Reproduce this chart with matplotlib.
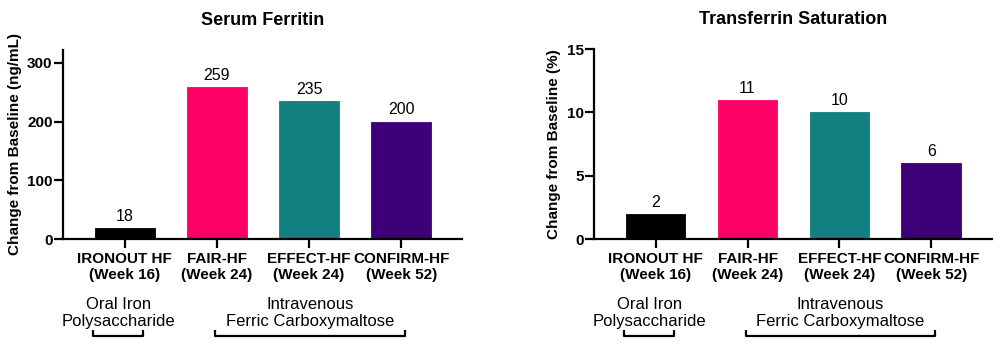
"""Iron repletion trials: change from baseline in ferritin and TSAT."""
import matplotlib.pyplot as plt
import matplotlib.transforms as mtransforms

plt.rcParams["font.family"] = ["Liberation Sans", "DejaVu Sans"]

trials = ["IRONOUT HF\n(Week 16)", "FAIR-HF\n(Week 24)",
          "EFFECT-HF\n(Week 24)", "CONFIRM-HF\n(Week 52)"]
ferritin_change = [18, 259, 235, 200]
tsat_change = [2, 11, 10, 6]
bar_colors = ["#000000", "#FF0066", "#128080", "#3D0078"]

groups = ["Oral Iron\nPolysaccharide", "Intravenous\nFerric Carboxymaltose"]
group_spans = [(-0.34, 0.20), (0.98, 3.04)]
group_centers = [-0.07, 2.01]


def draw_panel(ax, values, title, ylabel, ylim, yticks):
    x = range(len(values))
    bars = ax.bar(x, values, width=0.65, color=bar_colors,
                  edgecolor=bar_colors, linewidth=0.6)
    ax.bar_label(bars, labels=[str(v) for v in values], padding=3,
                 fontsize=11.5)
    ax.set_xlim(-0.67, 3.66)
    ax.set_ylim(*ylim)
    ax.set_yticks(yticks)
    ax.set_xticks(list(x))
    ax.set_xticklabels(trials, fontsize=11, fontweight="bold", linespacing=1.2)
    for lbl in ax.get_yticklabels():
        lbl.set_fontweight("bold")
        lbl.set_fontsize(11)
    ax.tick_params(axis="both", width=1.6, length=6.5, color="black")
    ax.tick_params(axis="y", pad=1)
    ax.tick_params(axis="x", pad=3)
    for side in ("top", "right"):
        ax.spines[side].set_visible(False)
    for side in ("left", "bottom"):
        ax.spines[side].set_linewidth(1.6)
    ax.set_title(title, fontsize=13, fontweight="bold", pad=18)
    ax.set_ylabel(ylabel, fontsize=11, fontweight="bold", labelpad=4)

    # treatment group captions and brackets below the trial names
    trans = mtransforms.blended_transform_factory(ax.transData, ax.transAxes)
    for name, (x0, x1), xc in zip(groups, group_spans, group_centers):
        ax.text(xc, -0.305, name, transform=trans, ha="center", va="top",
                fontsize=12, linespacing=1.15, clip_on=False)
        ax.plot([x0, x0, x1, x1], [-0.48, -0.513, -0.513, -0.48],
                transform=trans, color="black", linewidth=1.6,
                clip_on=False, solid_capstyle="butt")


fig = plt.figure(figsize=(10, 3.49), dpi=100)
ax1 = fig.add_axes([0.063, 0.315, 0.399, 0.542])
ax2 = fig.add_axes([0.594, 0.315, 0.398, 0.544])

draw_panel(ax1, ferritin_change, "Serum Ferritin",
           "Change from Baseline (ng/mL)", (0, 322), [0, 100, 200, 300])
draw_panel(ax2, tsat_change, "Transferrin Saturation",
           "Change from Baseline (%)", (0, 15), [0, 5, 10, 15])

fig.savefig("out.png", dpi=100)
